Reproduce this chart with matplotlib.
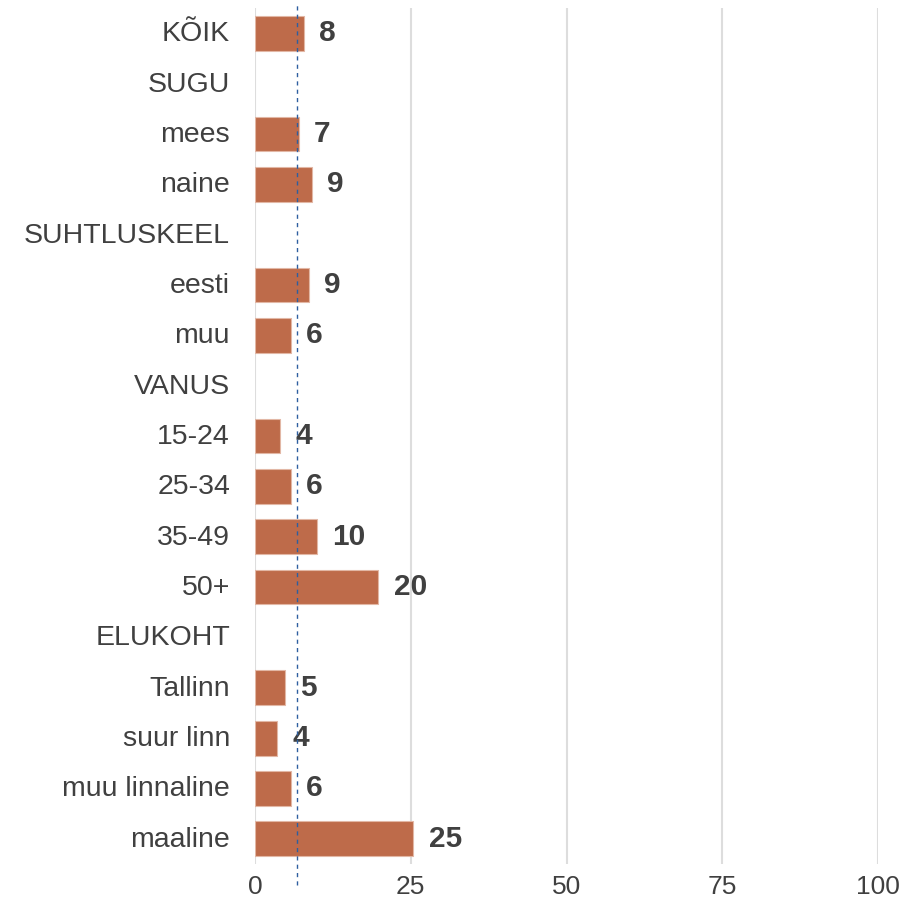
import matplotlib
matplotlib.use("Agg")
import matplotlib.pyplot as plt
import matplotlib.transforms as mtransforms

categories = ["KÕIK", "SUGU", "mees", "naine", "SUHTLUSKEEL", "eesti", "muu",
              "VANUS", "15-24", "25-34", "35-49", "50+", "ELUKOHT",
              "Tallinn", "suur linn", "muu linnaline", "maaline"]
values = [7.8, None, 7.0, 9.1, None, 8.7, 5.7,
          None, 4.0, 5.7, 10.0, 19.8, None,
          4.8, 3.6, 5.7, 25.4]
labels = ["8", "", "7", "9", "", "9", "6",
          "", "4", "6", "10", "20", "",
          "5", "4", "6", "25"]
reference_value = 6.8
xticks = [0, 25, 50, 75, 100]

plt.rcParams['font.family'] = ['Liberation Sans', 'DejaVu Sans']

fig = plt.figure(figsize=(9.21, 9.02), dpi=100)
ax = fig.add_axes([255/921, 1-864/902, (878-255)/921, (864-8.2)/902])

bar_color = "#BE6B4A"
text_color = "#404040"

for i, (v, lab) in enumerate(zip(values, labels)):
    if v is None:
        continue
    ax.barh(i, v, height=0.69, color=bar_color, edgecolor="#E2B7A5", linewidth=0.8, zorder=3)
    ax.annotate(lab, (v, i), xytext=(11, 0), textcoords="offset points",
                ha="left", va="center", fontsize=21.5, fontweight="bold", color=text_color, zorder=4)

ax.axvline(reference_value, ymin=-0.025, ymax=1.006, color="#2E5FA0", linestyle=(0, (3, 3)),
           linewidth=1.0, clip_on=False, zorder=5)

ax.set_xlim(0, 100)
ax.set_ylim(len(categories) - 0.5, -0.5)
ax.set_yticks(range(len(categories)))
ax.set_yticklabels(categories, fontsize=20.5, color=text_color)
ax.set_xticks(xticks)
ax.set_xticklabels([str(t) for t in xticks], fontsize=19, color=text_color)
ax.tick_params(axis="y", length=0, pad=18)
ax.tick_params(axis="x", length=0, pad=8)
shift = mtransforms.ScaledTranslation(0, 2/100, fig.dpi_scale_trans)
for t in ax.get_yticklabels():
    t.set_transform(t.get_transform() + shift)
ax.grid(axis="x", color="#DDDDDD", linewidth=1.5, zorder=0)
ax.grid(axis="y", visible=False)
for s in ax.spines.values():
    s.set_visible(False)

fig.savefig("out.png", dpi=100)
